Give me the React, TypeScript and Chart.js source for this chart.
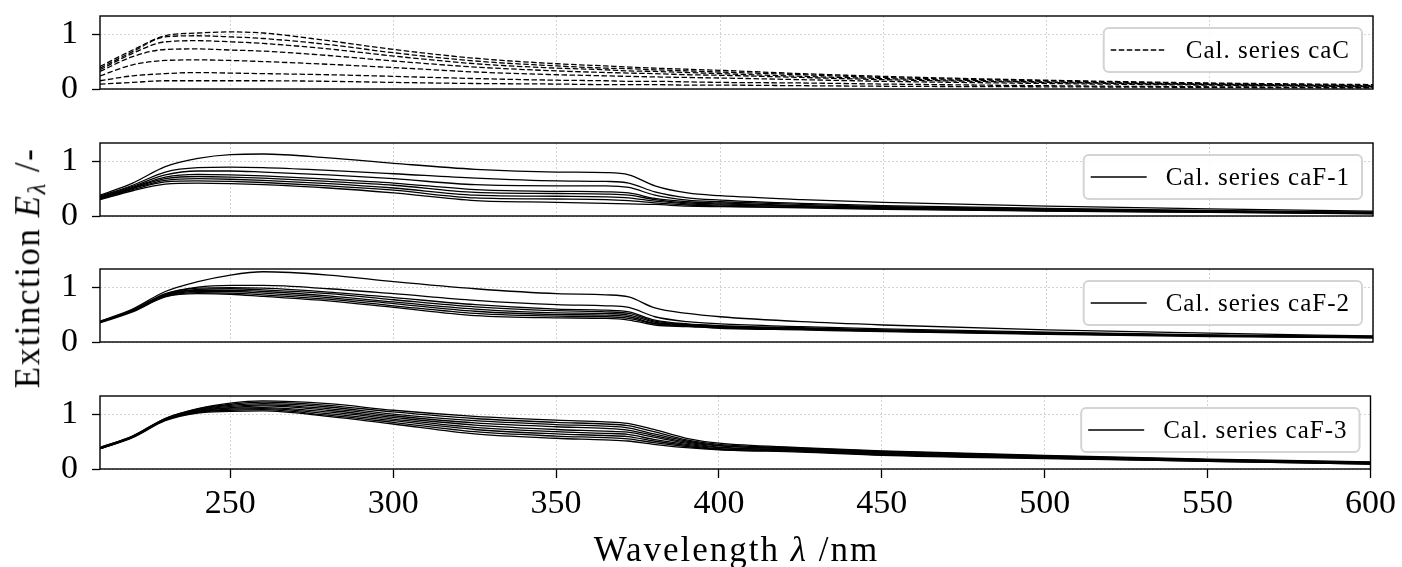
import React, { useEffect, useRef } from "react";
import { Chart, registerables } from "chart.js";
Chart.register(...registerables);

// ---------------- data ----------------
const wavelengths = [210, 220, 230, 240, 250, 260, 280, 300, 325, 350, 365, 372, 380, 390, 400, 425, 450, 500, 550, 600];

const xTicks = [250, 300, 350, 400, 450, 500, 550, 600];
const yTicks = [0, 1];

const caC: number[][] = [
  [0.41, 0.71, 0.97, 1.02, 1.04, 1.02, 0.88, 0.72, 0.56, 0.46, 0.42, 0.40, 0.38, 0.36, 0.34, 0.28, 0.23, 0.16, 0.11, 0.08],
  [0.38, 0.68, 0.95, 0.97, 0.95, 0.92, 0.81, 0.66, 0.51, 0.42, 0.38, 0.37, 0.35, 0.33, 0.31, 0.26, 0.21, 0.15, 0.10, 0.07],
  [0.35, 0.65, 0.86, 0.88, 0.86, 0.83, 0.73, 0.60, 0.46, 0.38, 0.35, 0.33, 0.32, 0.30, 0.28, 0.23, 0.19, 0.13, 0.09, 0.06],
  [0.32, 0.59, 0.72, 0.73, 0.71, 0.69, 0.61, 0.51, 0.40, 0.33, 0.30, 0.29, 0.28, 0.26, 0.25, 0.21, 0.17, 0.12, 0.08, 0.05],
  [0.24, 0.44, 0.52, 0.53, 0.52, 0.50, 0.45, 0.39, 0.31, 0.26, 0.24, 0.23, 0.22, 0.21, 0.20, 0.17, 0.14, 0.10, 0.07, 0.04],
  [0.15, 0.24, 0.28, 0.30, 0.29, 0.28, 0.26, 0.23, 0.19, 0.16, 0.15, 0.14, 0.14, 0.13, 0.12, 0.11, 0.09, 0.06, 0.04, 0.03],
  [0.09, 0.12, 0.15, 0.15, 0.15, 0.15, 0.14, 0.12, 0.10, 0.09, 0.08, 0.08, 0.08, 0.07, 0.07, 0.06, 0.05, 0.04, 0.03, 0.02],
];

const caF1: number[][] = [
  [0.38, 0.60, 0.90, 1.05, 1.12, 1.13, 1.06, 0.96, 0.85, 0.80, 0.79, 0.75, 0.55, 0.42, 0.37, 0.30, 0.25, 0.18, 0.13, 0.09],
  [0.36, 0.56, 0.80, 0.88, 0.89, 0.88, 0.83, 0.77, 0.69, 0.64, 0.63, 0.60, 0.44, 0.33, 0.29, 0.23, 0.19, 0.14, 0.10, 0.07],
  [0.35, 0.54, 0.75, 0.82, 0.82, 0.80, 0.75, 0.68, 0.57, 0.55, 0.55, 0.52, 0.38, 0.29, 0.26, 0.21, 0.17, 0.13, 0.09, 0.065],
  [0.34, 0.52, 0.71, 0.76, 0.75, 0.73, 0.67, 0.60, 0.48, 0.45, 0.44, 0.42, 0.32, 0.26, 0.24, 0.19, 0.16, 0.12, 0.085, 0.06],
  [0.33, 0.51, 0.68, 0.72, 0.71, 0.69, 0.63, 0.56, 0.43, 0.41, 0.40, 0.38, 0.30, 0.24, 0.22, 0.18, 0.15, 0.11, 0.08, 0.055],
  [0.32, 0.50, 0.65, 0.68, 0.67, 0.65, 0.59, 0.51, 0.38, 0.36, 0.35, 0.33, 0.27, 0.22, 0.20, 0.17, 0.14, 0.10, 0.075, 0.05],
  [0.31, 0.48, 0.62, 0.64, 0.63, 0.61, 0.55, 0.47, 0.33, 0.31, 0.30, 0.28, 0.24, 0.20, 0.18, 0.16, 0.13, 0.095, 0.07, 0.045],
  [0.30, 0.46, 0.58, 0.60, 0.59, 0.57, 0.51, 0.42, 0.28, 0.25, 0.23, 0.22, 0.21, 0.18, 0.17, 0.15, 0.12, 0.09, 0.065, 0.04],
];

const caF2: number[][] = [
  [0.38, 0.60, 0.92, 1.10, 1.22, 1.28, 1.22, 1.10, 0.97, 0.88, 0.86, 0.82, 0.62, 0.52, 0.46, 0.37, 0.31, 0.22, 0.16, 0.11],
  [0.37, 0.58, 0.88, 1.00, 1.03, 1.03, 0.97, 0.88, 0.76, 0.68, 0.66, 0.63, 0.46, 0.37, 0.33, 0.28, 0.24, 0.18, 0.13, 0.10],
  [0.37, 0.58, 0.87, 0.98, 0.99, 0.98, 0.91, 0.81, 0.68, 0.60, 0.58, 0.55, 0.40, 0.33, 0.30, 0.26, 0.22, 0.17, 0.12, 0.09],
  [0.37, 0.57, 0.86, 0.96, 0.97, 0.95, 0.88, 0.77, 0.64, 0.57, 0.55, 0.52, 0.38, 0.32, 0.29, 0.25, 0.21, 0.16, 0.12, 0.09],
  [0.36, 0.57, 0.85, 0.94, 0.94, 0.92, 0.84, 0.73, 0.60, 0.53, 0.52, 0.49, 0.36, 0.31, 0.28, 0.24, 0.21, 0.16, 0.12, 0.085],
  [0.36, 0.56, 0.84, 0.92, 0.92, 0.89, 0.81, 0.70, 0.56, 0.50, 0.49, 0.46, 0.34, 0.30, 0.27, 0.23, 0.20, 0.15, 0.11, 0.08],
  [0.36, 0.56, 0.83, 0.90, 0.89, 0.86, 0.78, 0.66, 0.52, 0.47, 0.46, 0.43, 0.33, 0.29, 0.26, 0.23, 0.20, 0.15, 0.11, 0.08],
  [0.35, 0.55, 0.82, 0.88, 0.87, 0.83, 0.75, 0.63, 0.48, 0.44, 0.43, 0.40, 0.31, 0.28, 0.25, 0.22, 0.19, 0.14, 0.10, 0.075],
];

const caF3: number[][] = [
  [0.39, 0.60, 0.92, 1.10, 1.20, 1.24, 1.19, 1.07, 0.96, 0.89, 0.86, 0.83, 0.72, 0.56, 0.47, 0.39, 0.33, 0.25, 0.18, 0.13],
  [0.39, 0.60, 0.92, 1.09, 1.18, 1.22, 1.16, 1.04, 0.92, 0.85, 0.82, 0.79, 0.68, 0.53, 0.45, 0.38, 0.32, 0.24, 0.17, 0.12],
  [0.38, 0.59, 0.91, 1.08, 1.16, 1.19, 1.13, 1.00, 0.88, 0.81, 0.78, 0.75, 0.64, 0.51, 0.43, 0.37, 0.31, 0.23, 0.17, 0.12],
  [0.38, 0.59, 0.91, 1.07, 1.14, 1.17, 1.10, 0.97, 0.84, 0.77, 0.74, 0.71, 0.61, 0.49, 0.42, 0.36, 0.30, 0.22, 0.16, 0.11],
  [0.38, 0.59, 0.90, 1.06, 1.12, 1.15, 1.07, 0.94, 0.80, 0.72, 0.69, 0.67, 0.58, 0.47, 0.40, 0.35, 0.29, 0.22, 0.16, 0.11],
  [0.38, 0.58, 0.90, 1.05, 1.11, 1.12, 1.04, 0.91, 0.76, 0.68, 0.65, 0.63, 0.54, 0.45, 0.39, 0.34, 0.28, 0.21, 0.15, 0.10],
  [0.37, 0.58, 0.89, 1.04, 1.09, 1.10, 1.01, 0.88, 0.72, 0.64, 0.61, 0.59, 0.51, 0.43, 0.37, 0.33, 0.27, 0.20, 0.15, 0.10],
  [0.37, 0.58, 0.89, 1.03, 1.07, 1.08, 0.98, 0.85, 0.68, 0.60, 0.57, 0.55, 0.48, 0.41, 0.36, 0.32, 0.26, 0.20, 0.14, 0.09],
  [0.37, 0.57, 0.88, 1.02, 1.05, 1.06, 0.96, 0.82, 0.64, 0.56, 0.53, 0.51, 0.45, 0.39, 0.35, 0.31, 0.25, 0.19, 0.14, 0.09],
];

const legendLabels = ["Cal. series caC", "Cal. series caF-1", "Cal. series caF-2", "Cal. series caF-3"];
const panelSeries = [caC, caF1, caF2, caF3];
const panelDashed = [true, false, false, false];

// ---------------- layout ----------------
const W = 1402;
const H = 567;
const PLOT_LEFT = 100;
const PLOT_RIGHT = 1373;
const PLOT_TOPS = [16, 143, 269, 396];
const PLOT_H = 73;
const PAD_V = 24;
const X_AXIS_H = 70;
const SERIF = '"Liberation Serif", "Times New Roman", serif';
const TICK_FONT = 34;

const frameLegendPlugin = {
  id: "frameLegend",
  afterDatasetsDraw(chart: any, _args: any, opts: any) {
    const { ctx, chartArea: a } = chart;
    ctx.save();
    ctx.strokeStyle = "#000";
    ctx.lineWidth = 1.4;
    ctx.setLineDash([]);
    ctx.strokeRect(a.left, a.top, a.right - a.left, a.bottom - a.top);
    ctx.font = `25px ${SERIF}`;
    try { (ctx as any).letterSpacing = "1px"; } catch (e) {}
    const tw = ctx.measureText(opts.text).width;
    const h = 44, padL = 7, lineLen = 56, gap = 19, padR = 12;
    const w = padL + lineLen + gap + tw + padR;
    const x = a.right - 11 - w;
    const y = a.top + 12;
    ctx.beginPath();
    if ((ctx as any).roundRect) (ctx as any).roundRect(x, y, w, h, 5);
    else ctx.rect(x, y, w, h);
    ctx.fillStyle = "rgba(255,255,255,0.85)";
    ctx.fill();
    ctx.strokeStyle = "#d4d4d4";
    ctx.lineWidth = 2;
    ctx.stroke();
    ctx.beginPath();
    ctx.strokeStyle = "#000";
    ctx.lineWidth = 1.3;
    ctx.setLineDash(opts.dashed ? [5.5, 2.5] : []);
    ctx.moveTo(x + padL, y + h / 2);
    ctx.lineTo(x + padL + lineLen, y + h / 2);
    ctx.stroke();
    ctx.setLineDash([]);
    ctx.fillStyle = "#000";
    ctx.textBaseline = "middle";
    ctx.textAlign = "left";
    ctx.fillText(opts.text, x + padL + lineLen + gap, y + h / 2 + 1);
    ctx.restore();
  },
};

function Panel({ index }: { index: number }) {
  const ref = useRef<HTMLCanvasElement | null>(null);
  const isBottom = index === 3;
  const canvasTop = PLOT_TOPS[index] - PAD_V;
  const canvasH = PAD_V + PLOT_H + (isBottom ? X_AXIS_H : PAD_V);

  useEffect(() => {
    if (!ref.current) return;
    const series = panelSeries[index];
    const dashed = panelDashed[index];
    const chart = new Chart(ref.current, {
      type: "line",
      data: {
        datasets: series.map((vals, k) => ({
          label: k === 0 ? legendLabels[index] : "",
          data: wavelengths.map((wl, i) => ({ x: wl, y: vals[i] })),
          borderColor: "#000",
          borderWidth: 1.3,
          borderDash: dashed ? [5.5, 2.5] : [],
          pointRadius: 0,
          fill: false,
          cubicInterpolationMode: "monotone" as const,
        })),
      },
      options: {
        animation: false,
        responsive: false,
        events: [],
        layout: { padding: { left: 0, right: W - PLOT_RIGHT, top: PAD_V, bottom: isBottom ? 0 : PAD_V } },
        plugins: {
          legend: { display: false },
          tooltip: { enabled: false },
          frameLegend: { text: legendLabels[index], dashed },
        } as any,
        scales: {
          x: {
            type: "linear",
            min: 210,
            max: 600,
            afterBuildTicks: (s: any) => { s.ticks = xTicks.map((v) => ({ value: v })); },
            afterFit: (s: any) => { s.height = isBottom ? X_AXIS_H : 0; },
            grid: {
              color: "#c8c8c8",
              lineWidth: 0.8,
              drawTicks: isBottom,
              tickLength: 9,
              tickColor: "#000",
              tickWidth: 1.3,
              tickBorderDash: [],
            } as any,
            border: { display: false, dash: [2, 2] },
            ticks: {
              display: isBottom,
              color: "#000",
              font: { family: SERIF, size: TICK_FONT },
              padding: 6,
              maxRotation: 0,
              autoSkip: false,
            },
          },
          y: {
            type: "linear",
            min: 0,
            max: 1.33,
            afterBuildTicks: (s: any) => { s.ticks = yTicks.map((v) => ({ value: v })); },
            afterFit: (s: any) => { s.width = PLOT_LEFT; },
            grid: {
              color: "#c8c8c8",
              lineWidth: 0.8,
              drawTicks: true,
              tickLength: 8,
              tickColor: "#000",
              tickWidth: 1.3,
              tickBorderDash: [],
            } as any,
            border: { display: false, dash: [2, 2] },
            ticks: {
              color: "#000",
              font: { family: SERIF, size: TICK_FONT, lineHeight: 0.4 },
              padding: 14,
            },
          },
        },
      },
      plugins: [frameLegendPlugin as any],
    });

    for (let it = 0; it < 3; it++) {
      const a = chart.chartArea;
      if (!a) break;
      const pad: any = (chart.options.layout as any).padding;
      const dTop = a.top - PAD_V;
      const dBot = a.bottom - (PAD_V + PLOT_H);
      if (Math.abs(dTop) < 0.5 && Math.abs(dBot) < 0.5) break;
      const next = { ...pad, top: pad.top - dTop };
      if (!isBottom) next.bottom = pad.bottom + dBot;
      (chart.options.layout as any).padding = next;
      chart.update();
    }
    return () => chart.destroy();
  }, [index]);

  return (
    <canvas
      ref={ref}
      width={W}
      height={canvasH}
      style={{ position: "absolute", left: 0, top: canvasTop, width: W, height: canvasH }}
    />
  );
}

export default function App() {
  return (
    <div style={{ position: "absolute", left: 0, top: 0, width: W, height: H, background: "#fff", overflow: "hidden", fontFamily: SERIF }}>
      {[0, 1, 2, 3].map((i) => (
        <Panel key={i} index={i} />
      ))}
      <div
        style={{
          position: "absolute",
          left: 30,
          top: 268,
          transform: "translate(-50%, -50%) rotate(-90deg)",
          whiteSpace: "nowrap",
          fontSize: 35,
          letterSpacing: "1.5px",
          lineHeight: 1,
          color: "#000",
        }}
      >
        Extinction <i>E</i>
        <sub style={{ fontSize: "0.7em", verticalAlign: "-0.25em", fontStyle: "italic" }}>λ</sub> /-
      </div>
      <div
        style={{
          position: "absolute",
          left: (PLOT_LEFT + PLOT_RIGHT) / 2,
          top: 549,
          transform: "translate(-50%, -50%)",
          whiteSpace: "nowrap",
          fontSize: 35,
          letterSpacing: "2px",
          lineHeight: 1,
          color: "#000",
        }}
      >
        Wavelength <i>λ</i> /nm
      </div>
    </div>
  );
}
